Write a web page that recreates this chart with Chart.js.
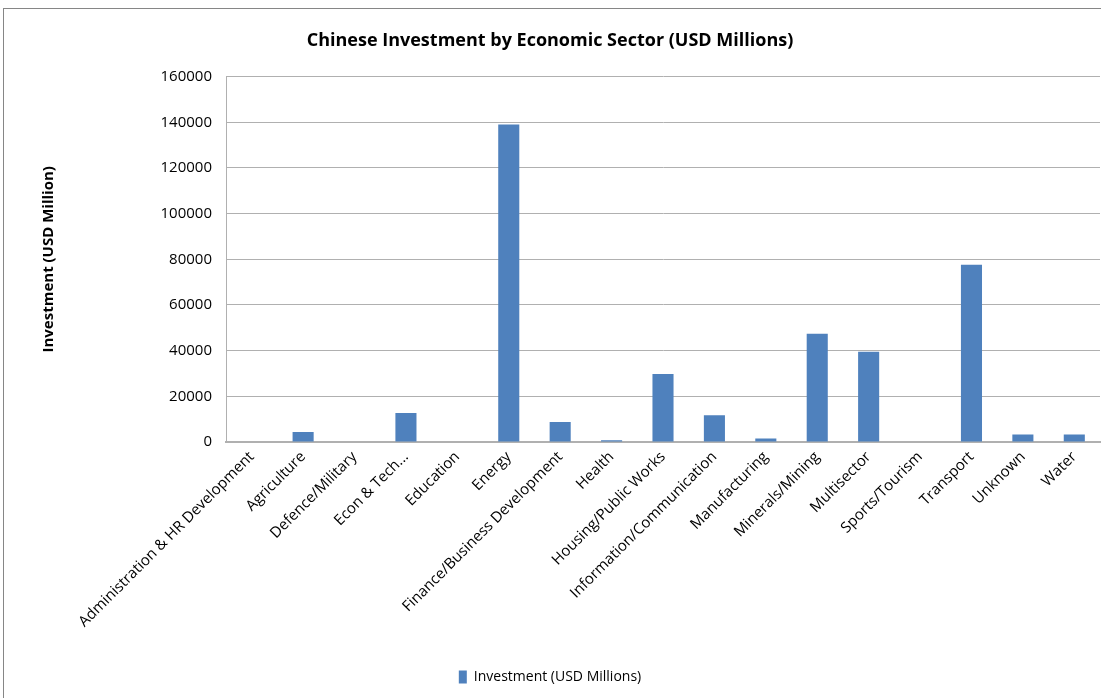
<!DOCTYPE html>
<html>
<head>
<meta charset="utf-8">
<script src="https://cdn.jsdelivr.net/npm/chart.js@4"></script>
<style>
  body { margin: 0; background: #fff; }
  #wrap { position: relative; width: 1101px; height: 698px; }
  #frame { position: absolute; left: 3px; top: 8px; width: 1110px; height: 700px; border: 1px solid #868686; pointer-events: none; }
</style>
</head>
<body>
<div id="wrap">
  <canvas id="sector_chart" width="1101" height="698"></canvas>
  <div id="frame"></div>
</div>
<script>
/** data **/
const sectors = ['Administration & HR Development', 'Agriculture', 'Defence/Military', 'Econ & Tech...',
    'Education', 'Energy', 'Finance/Business Development', 'Health', 'Housing/Public Works',
    'Information/Communication', 'Manufacturing', 'Minerals/Mining', 'Multisector',
    'Sports/Tourism', 'Transport', 'Unknown', 'Water']
const investment = [0, 4400, 0, 12650, 0, 139000, 8800, 750, 29800, 11760, 1500, 47400, 39500, 0, 77600, 3260, 3260]
const yTicks = [0, 20000, 40000, 60000, 80000, 100000, 120000, 140000, 160000]

const font = "'Open Sans', 'Liberation Sans', sans-serif"
Chart.defaults.font.family = font
Chart.defaults.color = '#000'

var sector_chart = new Chart(
    document.getElementById('sector_chart').getContext('2d'),
    config = {
        type: 'bar',
        data: {
            labels: sectors,
            datasets: [{
                label: 'Investment (USD Millions)',
                backgroundColor: '#4f81bd',
                borderWidth: 0,
                data: investment,
                barPercentage: 0.41,
                categoryPercentage: 1,
            }]
        },
        options: {
            responsive: false,
            animation: false,
            layout: { padding: { left: 0, right: 1, top: 8, bottom: 4 } },
            plugins: {
                title: {
                    display: true,
                    text: 'Chinese Investment by Economic Sector (USD Millions)',
                    font: { size: 18, weight: 'bold' },
                    padding: { top: 22, bottom: 25 },
                },
                legend: {
                    position: 'bottom',
                    labels: { boxWidth: 8, boxHeight: 13, font: { size: 14 }, padding: 8 },
                },
                tooltip: { enabled: false },
            },
            scales: {
                x: {
                    grid: { display: false, drawTicks: false },
                    border: { color: '#b0b0b0', width: 2 },
                    ticks: { minRotation: 45, maxRotation: 45, autoSkip: false, font: { size: 15 }, padding: 6 },
                    afterFit: function (s) { s.height = 220 },
                },
                y: {
                    min: 0,
                    max: 160000,
                    afterBuildTicks: function (s) { s.ticks = yTicks.map(v => ({ value: v })) },
                    grid: { color: '#b0b0b0', drawTicks: false },
                    border: { color: '#b0b0b0', width: 1 },
                    ticks: { font: { size: 15 }, padding: 14, callback: v => String(v) },
                    title: {
                        display: true,
                        text: 'Investment (USD Million)',
                        font: { size: 15, weight: 'bold' },
                        padding: { top: 40, bottom: 0 },
                    },
                    afterFit: function (s) { s.width = 226 },
                }
            },
        }
    }
);
</script>
</body>
</html>
